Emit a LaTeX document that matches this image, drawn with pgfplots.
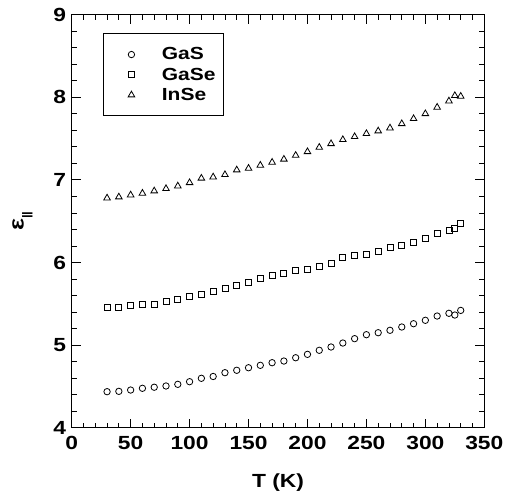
\documentclass[border=0pt]{standalone}
\usepackage{fontspec}
\setmainfont{Liberation Sans}[FakeStretch=1.2]
\usepackage{pgfplots}
\pgfplotsset{compat=1.18}
\begin{document}
\begin{tikzpicture}
\begin{axis}[name=ax,
  scale only axis, width=412.6pt, height=413pt,
  xmin=0, xmax=350, ymin=4, ymax=9,
  xtick={0,50,...,350}, ytick={4,5,...,9},
  minor x tick num=4, minor y tick num=4,
  major tick length=9pt, minor tick length=5pt,
  tick align=inside, tick pos=both,
  axis line style={line width=1pt}, every tick/.style={line width=0.8pt,black},
  ticklabel style={font=\fontsize{19}{20}\selectfont\bfseries},
  /pgf/number format/assume math mode=true,
  xticklabel style={yshift=-5pt},
  yticklabel style={xshift=-2pt},
  xlabel={T (K)}, xlabel style={font=\fontsize{19}{20}\selectfont\bfseries, yshift=-17pt},
  ylabel={ε\raisebox{-0.6ex}{\fontsize{11}{11}\selectfont ||}},
  ylabel style={font=\fontsize{21}{22}\selectfont\bfseries, yshift=14pt},
  legend style={at={(0.075,0.955)}, anchor=north west, draw=black, line width=0.8pt,
    font=\fontsize{17.5}{19}\selectfont\bfseries, inner xsep=6pt, inner ysep=12pt,
    row sep=2.5pt, cells={anchor=west}},
  legend image code/.code={\path (0pt,0pt) (50pt,0pt); \draw[#1] plot coordinates {(22pt,0pt)};},
  legend cell align=left,
  every axis plot/.append style={only marks, black, line width=0.8pt, mark options={fill=none}},
]
\addplot[mark=o, mark size=3.2pt] coordinates {
(30,4.436)(40,4.44)(50,4.456)(60,4.477)(70,4.49)(80,4.505)(90,4.525)(100,4.557)(110,4.598)(120,4.62)
(130,4.666)(140,4.695)(150,4.726)(160,4.755)(170,4.787)(180,4.807)(190,4.847)(200,4.888)(210,4.937)(220,4.977)
(230,5.025)(240,5.078)(250,5.126)(260,5.15)(270,5.179)(280,5.219)(290,5.259)(300,5.30)(310,5.352)(320,5.385)
(325,5.364)(330,5.42)};
\addlegendentry{GaS}
\addplot[mark=square, mark size=3pt] coordinates {
(30,5.458)(40,5.458)(50,5.477)(60,5.494)(70,5.494)(80,5.525)(90,5.558)(100,5.586)(110,5.615)(120,5.647)
(130,5.688)(140,5.728)(150,5.764)(160,5.809)(170,5.849)(180,5.869)(190,5.901)(200,5.918)(210,5.958)(220,5.99)
(230,6.063)(240,6.087)(250,6.103)(260,6.139)(270,6.179)(280,6.208)(290,6.248)(300,6.296)(310,6.349)(320,6.385)
(325,6.409)(330,6.478)};
\addlegendentry{GaSe}
\addplot[mark=triangle, mark size=3.8pt] coordinates {
(30,6.78)(40,6.793)(50,6.817)(60,6.838)(70,6.866)(80,6.894)(90,6.926)(100,6.966)(110,7.02)(120,7.035)
(130,7.063)(140,7.12)(150,7.14)(160,7.177)(170,7.213)(180,7.25)(190,7.297)(200,7.341)(210,7.394)(220,7.438)
(230,7.487)(240,7.523)(250,7.56)(260,7.592)(270,7.628)(280,7.68)(290,7.741)(300,7.801)(310,7.879)(320,7.955)
(325,8.02)(330,8.012)};
\addlegendentry{InSe}
\end{axis}
\pgfresetboundingbox
\path[use as bounding box] ([xshift=-71.7pt,yshift=-64.3pt]ax.south west) rectangle ([xshift=24.7pt,yshift=14.7pt]ax.north east);
\end{tikzpicture}
\end{document}
